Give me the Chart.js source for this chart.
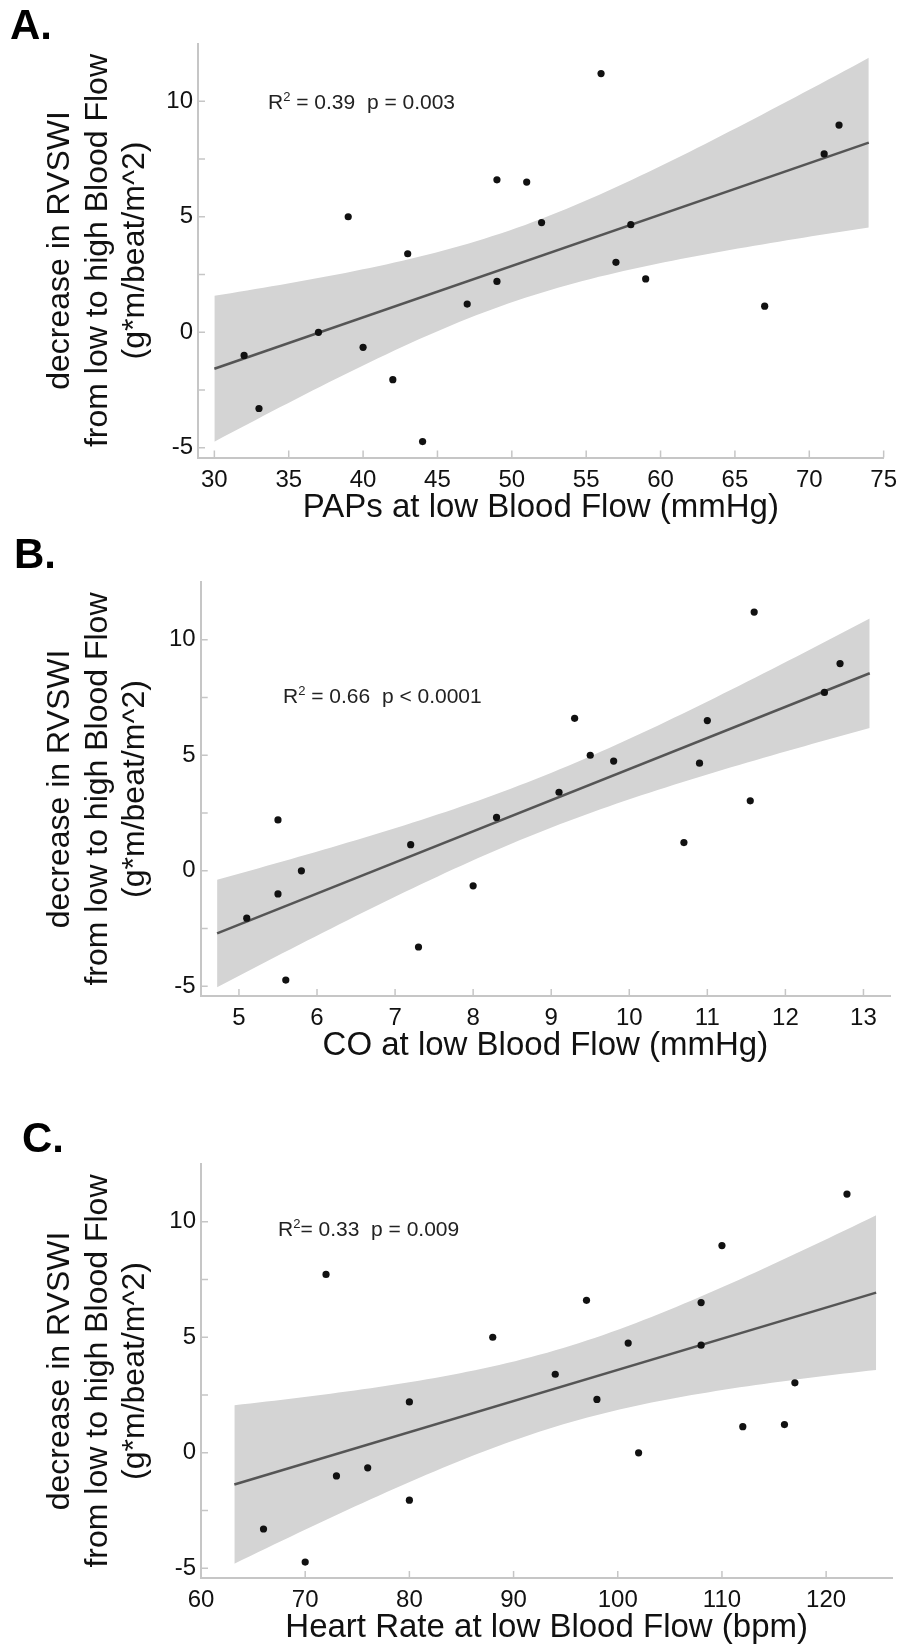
<!DOCTYPE html>
<html>
<head>
<meta charset="utf-8">
<script src="https://cdn.jsdelivr.net/npm/chart.js@4.4.1/dist/chart.umd.min.js"></script>
<style>
  body { margin: 0; background: #fff; }
  #page { position: relative; width: 905px; height: 1650px; overflow: hidden; font-family: "Liberation Sans", Arial, sans-serif; }
  .panel { position: absolute; left: 0; width: 905px; }
  .tag { position: absolute; font-weight: bold; font-size: 42px; line-height: 1; color: #000; }
  .stat { position: absolute; font-size: 21px; line-height: 1; color: #222; white-space: pre; }
  .stat .sup { font-size: 13px; position: relative; top: -8px; }
</style>
</head>
<body>
<div id="page">
  <div class="panel" style="top:0px;height:545px"><canvas id="chartA"></canvas></div>
  <div class="panel" style="top:545px;height:550px"><canvas id="chartB"></canvas></div>
  <div class="panel" style="top:1095px;height:555px"><canvas id="chartC"></canvas></div>

  <div class="tag" style="left:10px;top:4px">A.</div>
  <div class="tag" style="left:14px;top:533px">B.</div>
  <div class="tag" style="left:22px;top:1117px">C.</div>

  <div class="stat" style="left:268px;top:91px">R<span class="sup">2</span> = 0.39  p = 0.003</div>
  <div class="stat" style="left:283px;top:685px">R<span class="sup">2</span> = 0.66  p &lt; 0.0001</div>
  <div class="stat" style="left:278px;top:1218px">R<span class="sup">2</span>= 0.33  p = 0.009</div>
</div>

<script>
/** datos: un valor por sujeto, mismo orden en los tres paneles */
const rvswi = [-1.0, -3.3, 0.0, 5.0, -0.65, -2.05, 3.4, -4.73, 1.22, 6.6, 2.2, 6.5, 4.75, 11.2, 3.03, 4.66, 2.31, 1.13, 7.72, 8.97];
const paps  = [32, 33, 37, 39, 40, 42, 43, 44, 47, 49, 49, 51, 52, 56, 57, 58, 59, 67, 71, 72];
const co    = [5.5, 7.3, 5.8, 9.5, 8.0, 5.1, 9.1, 5.6, 10.7, 9.3, 5.5, 11.0, 9.8, 11.6, 11.55, 10.9, 8.3, 7.2, 12.5, 12.7];
const hr    = [73, 66, 102, 88, 76, 80, 94, 70, 116, 97, 80, 108, 101, 122, 117, 108, 98, 112, 72, 110];

const yTitle = ['decrease in RVSWI', 'from low to high Blood Flow', '(g*m/beat/m^2)'];
const xTitles = ['PAPs at low Blood Flow (mmHg)', 'CO at low Blood Flow (mmHg)', 'Heart Rate at low Blood Flow (bpm)'];
const yTicksShown = [-5, 0, 5, 10];

const FONT = '"Liberation Sans", Arial, sans-serif';
const axisColor = '#c6c6c6';

/** recta de minimos cuadrados y banda de confianza 95% de la media */
function regression(xs, ys) {
  const n = xs.length;
  const mx = xs.reduce((a, b) => a + b, 0) / n;
  const my = ys.reduce((a, b) => a + b, 0) / n;
  let sxx = 0, sxy = 0;
  for (let i = 0; i < n; i++) {
    sxx += (xs[i] - mx) * (xs[i] - mx);
    sxy += (xs[i] - mx) * (ys[i] - my);
  }
  const b = sxy / sxx;
  const a = my - b * mx;
  let sse = 0;
  for (let i = 0; i < n; i++) sse += Math.pow(ys[i] - (a + b * xs[i]), 2);
  const s = Math.sqrt(sse / (n - 2));
  const t = 2.101; // t(0.975, 18)
  const lo = Math.min(...xs), hi = Math.max(...xs);
  const pad = (hi - lo) * 0.05;
  const x0 = lo - pad, x1 = hi + pad;
  const upper = [], lower = [];
  for (let k = 0; k <= 80; k++) {
    const x = x0 + (x1 - x0) * k / 80;
    const yh = a + b * x;
    const h = t * s * Math.sqrt(1 / n + (x - mx) * (x - mx) / sxx);
    upper.push({x: x, y: yh + h});
    lower.push({x: x, y: yh - h});
  }
  return {line: [{x: x0, y: a + b * x0}, {x: x1, y: a + b * x1}], upper, lower};
}

/** marcas de tick hacia adentro */
const innerTicks = {
  id: 'innerTicks',
  afterDraw(chart) {
    const ctx = chart.ctx;
    const area = chart.chartArea;
    const sx = chart.scales.x, sy = chart.scales.y;
    ctx.save();
    ctx.strokeStyle = axisColor;
    ctx.lineWidth = 1.5;
    ctx.beginPath();
    sx.ticks.forEach(t => {
      const px = sx.getPixelForValue(t.value);
      ctx.moveTo(px, area.bottom);
      ctx.lineTo(px, area.bottom - 7);
    });
    sy.ticks.forEach(t => {
      if (t.value > 10) return;
      const py = sy.getPixelForValue(t.value);
      ctx.moveTo(area.left, py);
      ctx.lineTo(area.left + 7, py);
    });
    ctx.stroke();
    ctx.restore();
  }
};

function makeChart(id, xs, xMin, xMax, xStep, xTitle, box) {
  const fit = regression(xs, rvswi);
  const points = xs.map((x, i) => ({x: x, y: rvswi[i]}));
  return new Chart(document.getElementById(id), {
    type: 'scatter',
    data: {
      datasets: [
        {data: points, pointRadius: 3.6, pointBackgroundColor: '#111', pointBorderWidth: 0, order: 0},
        {type: 'line', data: fit.line, borderColor: '#555', borderWidth: 2.5, pointRadius: 0, fill: false, order: 1},
        {type: 'line', data: fit.upper, borderColor: 'rgba(0,0,0,0)', borderWidth: 0, pointRadius: 0, fill: '+1', backgroundColor: '#d4d4d4', order: 2},
        {type: 'line', data: fit.lower, borderColor: 'rgba(0,0,0,0)', borderWidth: 0, pointRadius: 0, fill: false, order: 3}
      ]
    },
    options: {
      responsive: true,
      maintainAspectRatio: false,
      animation: false,
      layout: {padding: {top: box.top, right: box.right, bottom: box.bottom, left: 0}},
      plugins: {legend: {display: false}, tooltip: {enabled: false}},
      scales: {
        x: {
          type: 'linear', min: xMin, max: xMax,
          afterFit: s => { s.height = 72; },
          border: {display: true, color: axisColor, width: 2},
          grid: {display: false, drawTicks: false},
          ticks: {stepSize: xStep, includeBounds: false, autoSkip: false, maxRotation: 0, padding: 8,
                  color: '#111', font: {family: FONT, size: 24}},
          title: {display: true, text: xTitle, color: '#111',
                  font: {family: FONT, size: 33, lineHeight: 1.25}, padding: {top: 0, bottom: 1}}
        },
        y: {
          type: 'linear', min: -5.42, max: 12.5,
          afterFit: s => { s.width = box.left; },
          border: {display: true, color: axisColor, width: 2},
          grid: {display: false, drawTicks: false},
          ticks: {stepSize: 2.5, includeBounds: false, padding: 5, color: '#111', font: {family: FONT, size: 24},
                  callback: v => yTicksShown.includes(v) ? String(v) : ''},
          title: {display: true, text: yTitle, color: '#111',
                  font: {family: FONT, size: 32, lineHeight: 1.16}, padding: {top: 42, bottom: 0}}
        }
      }
    },
    plugins: [innerTicks]
  });
}

makeChart('chartA', paps, 28.9, 75, 5, xTitles[0], {top: 43.5, right: 16, bottom: 15.5, left: 198});
makeChart('chartB', co, 4.51, 13.34, 1, xTitles[1], {top: 37, right: 15, bottom: 27, left: 200.7});
makeChart('chartC', hr, 60, 126.35, 10, xTitles[2], {top: 69, right: 12.7, bottom: 0, left: 201});
</script>
</body>
</html>
